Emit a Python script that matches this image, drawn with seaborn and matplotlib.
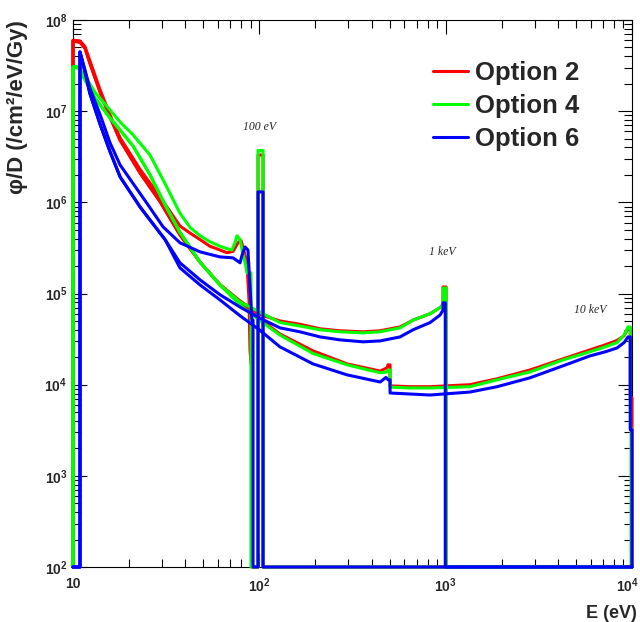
import matplotlib
matplotlib.use("Agg")
import numpy as np
import pandas as pd
import matplotlib.pyplot as plt
import matplotlib.transforms as mtransforms
from matplotlib.lines import Line2D
from matplotlib.ticker import LogLocator, NullFormatter
import seaborn as sns

# ---------------------------------------------------------------
# Fluence per dose spectra phi/D (/cm^2/eV/Gy) versus energy E (eV)
# for three physics options and three source energies.
# A value of 1e2 marks an empty bin (drawn on the axis floor).
# ---------------------------------------------------------------

# Option 2
e_opt2_100 = [10, 10, 10.9, 11.6, 12.3, 13.1, 14.0, 15.8, 17.9, 22.9, 29.3, 37.5, 42.5, 48.1, 54.3,
              61.5, 67.1, 72.3, 76.8, 79.8, 82.8, 85.9, 88.0, 89.1, 90.2, 91.3, 91.3, 98.4, 98.4,
              104.7, 104.7, 10000]
phi_opt2_100 = [1e2, 6.0e7, 5.9e7, 5.1e7, 3.6e7, 2.5e7, 1.7e7, 9.1e6, 5.1e6, 2.3e6, 1.15e6, 5.5e5,
                4.6e5, 3.9e5, 3.3e5, 3.0e5, 2.8e5, 2.9e5, 3.6e5, 3.8e5, 2.9e5, 2.1e5, 8.5e4, 2.4e4,
                1.7e4, 1.7e4, 1e2, 1e2, 3.3e6, 3.3e6, 1e2, 1e2]

e_opt2_1k = [10, 10, 10.9, 11.6, 12.3, 13.1, 14.0, 15.8, 17.9, 22.9, 29.3, 37.5, 48.1, 61.5, 78.8,
             100, 129, 165, 212, 271, 360, 445, 569, 668, 825, 933, 968, 968, 1005, 1005, 10000]
phi_opt2_1k = [1e2, 5.9e7, 5.7e7, 4.9e7, 3.4e7, 2.35e7, 1.6e7, 8.6e6, 4.8e6, 2.1e6, 1.02e6, 4.4e5,
               2.2e5, 1.25e5, 8.3e4, 5.9e4, 5.0e4, 4.6e4, 4.1e4, 3.9e4, 3.8e4, 3.9e4, 4.3e4, 5.1e4,
               6.0e4, 7.0e4, 7.6e4, 1.18e5, 1.18e5, 1e2, 1e2]

e_opt2_10k = [10, 10, 10.9, 11.6, 12.3, 13.1, 14.0, 15.8, 17.9, 22.9, 29.3, 37.5, 48.1, 61.5, 78.8,
              100, 129, 194, 296, 445, 484, 491, 503, 503, 644, 825, 1350, 1888, 2838, 4266, 5957,
              7178, 8323, 9072, 9528, 9790, 9790, 10000, 10000]
phi_opt2_10k = [1e2, 5.9e7, 5.7e7, 4.9e7, 3.4e7, 2.35e7, 1.6e7, 8.6e6, 4.8e6, 2.1e6, 1.02e6, 4.4e5,
                2.2e5, 1.25e5, 8.0e4, 5.3e4, 3.6e4, 2.35e4, 1.69e4, 1.41e4, 1.53e4, 1.65e4, 1.65e4,
                9.7e3, 9.5e3, 9.5e3, 1.0e4, 1.16e4, 1.45e4, 1.92e4, 2.41e4, 2.73e4, 3.06e4, 3.43e4,
                4.2e4, 4.2e4, 7.2e3, 7.2e3, 1e2]

# Option 4
e_opt4_100 = [10, 10, 10.64, 11.6, 13.1, 15.8, 17.9, 21.0, 25.9, 31.2, 37.5, 42.5, 48.1, 54.3, 61.5,
              67.1, 71.3, 74.0, 75.9, 78.8, 80.8, 83.8, 85.9, 90.2, 90.2, 98.4, 98.4, 104.7, 104.7,
              10000]
phi_opt4_100 = [1e2, 3.05e7, 3.05e7, 2.43e7, 1.62e7, 1.03e7, 7.6e6, 5.5e6, 3.3e6, 1.6e6, 7.6e5,
                5.3e5, 4.3e5, 3.7e5, 3.3e5, 3.1e5, 3.0e5, 3.6e5, 4.3e5, 3.9e5, 3.0e5, 2.2e5, 1.68e5,
                1.68e5, 1e2, 1e2, 3.7e6, 3.7e6, 1e2, 1e2]

e_opt4_1k = [10, 10, 10.64, 11.6, 13.1, 15.8, 17.9, 21.0, 25.9, 31.2, 37.5, 48.1, 61.5, 78.8, 100,
             129, 165, 212, 271, 360, 445, 569, 668, 825, 933, 968, 968, 1005, 1005, 10000]
phi_opt4_1k = [1e2, 3.05e7, 3.05e7, 2.2e7, 1.4e7, 8.4e6, 6.2e6, 4.15e6, 2.0e6, 9.4e5, 4.7e5, 2.2e5,
               1.24e5, 8.1e4, 6.3e4, 4.8e4, 4.4e4, 4.0e4, 3.8e4, 3.7e4, 3.8e4, 4.2e4, 5.1e4, 6.0e4,
               7.0e4, 7.5e4, 1.15e5, 1.15e5, 1e2, 1e2]

e_opt4_10k = [10, 10, 10.64, 11.6, 13.1, 15.8, 17.9, 21.0, 25.9, 31.2, 37.5, 48.1, 61.5, 78.8, 100,
              129, 194, 296, 445, 484, 491, 503, 503, 644, 825, 1350, 1888, 2838, 4266, 5957, 7178,
              8323, 9072, 9528, 9790, 9790, 9885, 9885, 10000]
phi_opt4_10k = [1e2, 3.05e7, 3.05e7, 2.2e7, 1.4e7, 8.4e6, 6.2e6, 4.15e6, 2.0e6, 9.4e5, 4.7e5, 2.2e5,
                1.24e5, 7.5e4, 5.1e4, 3.5e4, 2.2e4, 1.65e4, 1.35e4, 1.38e4, 1.45e4, 1.45e4, 9.4e3,
                9.2e3, 9.2e3, 9.5e3, 1.13e4, 1.38e4, 1.87e4, 2.3e4, 2.6e4, 2.9e4, 3.5e4, 4.3e4,
                4.3e4, 3.4e3, 3.4e3, 1e2, 1e2]

# Option 6
e_opt6_100 = [10, 10.9, 10.9, 11.6, 12.3, 14.0, 15.8, 17.9, 24.9, 30.4, 37.5, 48.1, 61.5, 72.3, 78.8,
              80.8, 83.8, 86.9, 89.1, 91.3, 92.5, 92.5, 98.4, 98.4, 104.7, 104.7, 10000]
phi_opt6_100 = [1e2, 1e2, 4.46e7, 2.83e7, 1.8e7, 9.1e6, 4.5e6, 2.57e6, 9.8e5, 5.4e5, 3.6e5, 2.86e5,
                2.52e5, 2.46e5, 2.17e5, 2.65e5, 3.24e5, 3.0e5, 1.18e5, 5.1e4, 5.1e4, 1e2, 1e2,
                1.3e6, 1.3e6, 1e2, 1e2]

e_opt6_1k = [10, 10.9, 10.9, 11.6, 12.3, 14.0, 15.8, 17.9, 22.9, 25.9, 31.2, 37.5, 48.1, 61.5, 78.8,
             100, 129, 165, 212, 271, 360, 445, 569, 668, 825, 933, 968, 968, 995, 995, 10000]
phi_opt6_1k = [1e2, 1e2, 4.46e7, 2.69e7, 1.58e7, 7.1e6, 3.6e6, 1.9e6, 8.9e5, 6.4e5, 3.9e5, 2.17e5,
               1.41e5, 9.7e4, 7.1e4, 5.4e4, 4.2e4, 3.8e4, 3.34e4, 3.1e4, 2.95e4, 3.02e4, 3.34e4,
               4.0e4, 4.8e4, 5.8e4, 6.6e4, 7.9e4, 7.9e4, 1e2, 1e2]

e_opt6_10k = [10, 10.9, 10.9, 11.6, 12.3, 14.0, 15.8, 17.9, 22.9, 25.9, 31.2, 37.5, 48.1, 61.5, 78.8,
              100, 129, 194, 296, 445, 478, 491, 503, 503, 825, 1350, 1888, 2838, 4266, 5957, 7178,
              8323, 9072, 9528, 9790, 9790, 10000, 10000]
phi_opt6_10k = [1e2, 1e2, 4.46e7, 2.69e7, 1.58e7, 7.1e6, 3.6e6, 1.9e6, 8.9e5, 6.4e5, 3.9e5, 1.91e5,
                1.24e5, 8.5e4, 5.7e4, 4.0e4, 2.6e4, 1.69e4, 1.28e4, 1.07e4, 1.2e4, 1.13e4, 1.13e4,
                8.1e3, 7.7e3, 8.3e3, 9.5e3, 1.19e4, 1.61e4, 2.07e4, 2.29e4, 2.53e4, 2.9e4, 3.34e4,
                3.34e4, 3.2e3, 3.2e3, 1e2]

options = ["Option 2", "Option 4", "Option 6"]
option_colors = ["#ff0000", "#00ff00", "#0000ff"]
sources = ["100 eV", "1 keV", "10 keV"]
source_label_pos = [(100, 6.7e6), (957, 2.86e5), (5960, 6.6e4)]

x_ticks = [10, 100, 1000, 10000]
x_tick_labels = ["10", r"$10^{2}$", r"$10^{3}$", r"$10^{4}$"]
y_ticks = [1e2, 1e3, 1e4, 1e5, 1e6, 1e7, 1e8]
y_tick_labels = [r"$10^{2}$", r"$10^{3}$", r"$10^{4}$", r"$10^{5}$",
                 r"$10^{6}$", r"$10^{7}$", r"$10^{8}$"]

curves = {
    ("Option 2", "100 eV"): (e_opt2_100, phi_opt2_100),
    ("Option 2", "1 keV"): (e_opt2_1k, phi_opt2_1k),
    ("Option 2", "10 keV"): (e_opt2_10k, phi_opt2_10k),
    ("Option 4", "100 eV"): (e_opt4_100, phi_opt4_100),
    ("Option 4", "1 keV"): (e_opt4_1k, phi_opt4_1k),
    ("Option 4", "10 keV"): (e_opt4_10k, phi_opt4_10k),
    ("Option 6", "100 eV"): (e_opt6_100, phi_opt6_100),
    ("Option 6", "1 keV"): (e_opt6_1k, phi_opt6_1k),
    ("Option 6", "10 keV"): (e_opt6_10k, phi_opt6_10k),
}

frames = []
for (opt, src), (e, p) in curves.items():
    frames.append(pd.DataFrame({"option": opt, "source": src, "E": e, "phi": p}))
df = pd.concat(frames, ignore_index=True)

# ---------------------------------------------------------------
sns.set_style("ticks")
plt.rcParams.update({
    "font.family": ["Liberation Sans", "DejaVu Sans"],
    "font.weight": "bold",
    "mathtext.fontset": "custom",
    "mathtext.rm": "Liberation Sans:bold",
    "mathtext.bf": "Liberation Sans:bold",
    "mathtext.it": "Liberation Sans:bold:italic",
    "mathtext.default": "rm",
    "axes.edgecolor": "black",
    "axes.linewidth": 0.8,
})

fig = plt.figure(figsize=(6.4, 6.22), dpi=100)
ax = fig.add_axes([73 / 640, 55 / 622, 559 / 640, 547 / 622])
ax.set_xscale("log")
ax.set_yscale("log")

sns.lineplot(data=df, x="E", y="phi", hue="option", hue_order=options,
             palette=option_colors, units="source", estimator=None, sort=False,
             linewidth=2.2, legend=False, ax=ax, clip_on=False, zorder=3)

ax.set_xlim(10, 1e4)
ax.set_ylim(1e2, 1e8)

ax.set_xticks(x_ticks)
ax.set_xticklabels(x_tick_labels)
ax.set_yticks(y_ticks)
ax.set_yticklabels(y_tick_labels)
ax.xaxis.set_minor_locator(LogLocator(base=10, subs=np.arange(2, 10)))
ax.yaxis.set_minor_locator(LogLocator(base=10, subs=np.arange(2, 10)))
ax.xaxis.set_minor_formatter(NullFormatter())
ax.yaxis.set_minor_formatter(NullFormatter())
ax.tick_params(which="both", direction="in", top=True, right=True,
               width=0.8, color="black", labelsize=10)
ax.tick_params(which="major", length=10)
ax.tick_params(which="minor", length=5.5)
ax.tick_params(axis="x", which="major", pad=7)
ax.tick_params(axis="y", which="major", pad=4)

# keep the last x tick label inside the canvas
last_label = ax.get_xticklabels()[-1]
last_label.set_transform(last_label.get_transform() +
                         mtransforms.ScaledTranslation(-5 / 100, 0, fig.dpi_scale_trans))

ax.set_xlabel("E (eV)", fontsize=13, fontweight="bold", loc="right")
ax.xaxis.set_label_coords(1.009, -0.07)
ax.set_ylabel("\u03c6/D (/cm\u00b2/eV/Gy)", fontsize=16, fontweight="bold", loc="top")
ax.yaxis.set_label_coords(-0.08, 1.0)

for (xe, yv), src in zip(source_label_pos, sources):
    ax.text(xe, yv, src, ha="center", va="center", fontsize=8.5,
            family="Liberation Serif", style="italic", fontweight="normal")

handles = [Line2D([], [], color=c, lw=2.2) for c in option_colors]
ax.legend(handles, options, loc="upper left", bbox_to_anchor=(0.644, 0.925),
          frameon=False, borderpad=0, borderaxespad=0,
          handlelength=1.36, handletextpad=0.27, labelspacing=0.35,
          prop={"family": "Liberation Sans", "weight": "bold", "size": 18.5})

fig.savefig("out.png", dpi=100)
